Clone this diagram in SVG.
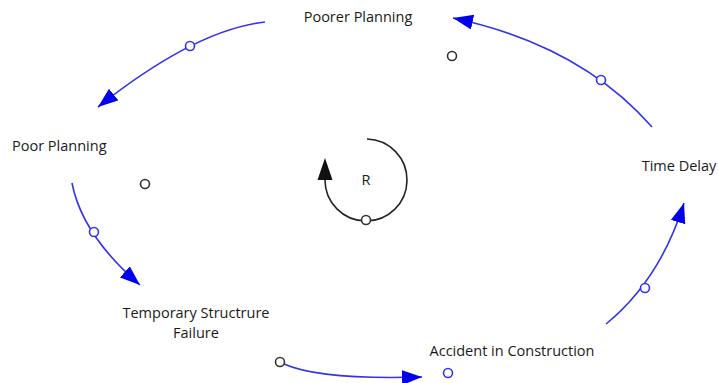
<svg xmlns="http://www.w3.org/2000/svg" width="718" height="383" viewBox="0 0 718 383">
<style>
.lbl{font-family:"Open Sans","Liberation Sans",sans-serif;font-size:14.5px;fill:#1a1a1a}
.link{fill:none;stroke:#3333ee;stroke-width:1.6}
.loop{fill:none;stroke:#222;stroke-width:1.6}
.bc{fill:#fff;stroke:#3333ee;stroke-width:1.6}
.kc{fill:#fff;stroke:#333;stroke-width:1.6}
</style>
<defs>
<marker id="ah" markerUnits="userSpaceOnUse" markerWidth="22" markerHeight="18" refX="20" refY="7.5" orient="auto"><path d="M0,0 L20,7.5 L0,15 z" fill="#0000ee"/></marker>
<marker id="ahk" markerUnits="userSpaceOnUse" markerWidth="24" markerHeight="16" refX="0" refY="7.5" orient="auto"><path d="M0,0 L22,7.5 L0,15 z" fill="#111"/></marker>
</defs>
<rect width="718" height="383" fill="#fff"/>
<g id="connectors">
<path class="link" d="M265,22 Q195,30 98,107" marker-end="url(#ah)"/>
<path class="link" d="M652,127 Q580,45 453,18" marker-end="url(#ah)"/>
<path class="link" d="M72,183 Q82,235 140,285" marker-end="url(#ah)"/>
<path class="link" d="M284,364 Q320,380 422,377" marker-end="url(#ah)"/>
<path class="link" d="M606,324 Q660,280 684,203" marker-end="url(#ah)"/>
<circle class="bc" cx="190" cy="46" r="4.5"/>
<circle class="bc" cx="601" cy="80" r="4.5"/>
<circle class="bc" cx="94" cy="232" r="4.5"/>
<circle class="bc" cx="645" cy="288" r="4.5"/>
<circle class="bc" cx="448" cy="373" r="4.5"/>
<circle class="kc" cx="280" cy="362" r="4.5"/>
<circle class="kc" cx="452" cy="56" r="4.5"/>
<circle class="kc" cx="145" cy="184" r="4.5"/>
</g>
<g id="loop">
<path class="loop" d="M367,139 A41,41 0 1 1 325,180" marker-end="url(#ahk)"/>
<circle class="kc" cx="366" cy="220" r="4.5"/>
<text class="lbl" x="366" y="185" text-anchor="middle">R</text>
</g>
<g id="poorer-planning"><text class="lbl" x="358" y="22" text-anchor="middle">Poorer Planning</text></g>
<g id="poor-planning"><text class="lbl" x="12" y="151">Poor Planning</text></g>
<g id="time-delay"><text class="lbl" x="679" y="171" text-anchor="middle">Time Delay</text></g>
<g id="temporary-structure-failure"><text class="lbl" x="196" y="318" text-anchor="middle">Temporary Structrure</text><text class="lbl" x="196" y="338" text-anchor="middle">Failure</text></g>
<g id="accident"><text class="lbl" x="512" y="356" text-anchor="middle">Accident in Construction</text></g>
</svg>
